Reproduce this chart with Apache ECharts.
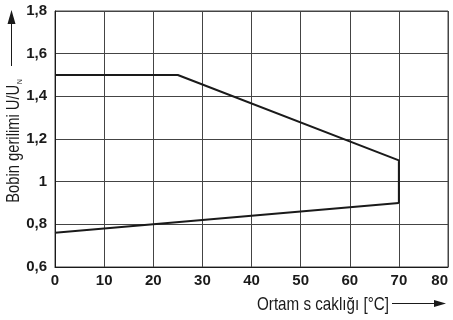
<!DOCTYPE html>
<html>
<head>
<meta charset="utf-8">
<script src="https://cdn.jsdelivr.net/npm/echarts@6/dist/echarts.min.js"></script>
<style>
  html, body { margin: 0; padding: 0; background: #fff; }
  #chart { width: 453px; height: 320px; }
</style>
</head>
<body>
<div id="chart"></div>
<script>
// Ambient temperature (°C) and permissible coil voltage ratio U/U_N
const upperTemp = [0, 25, 70, 70];
const upperVolt = [1.5, 1.5, 1.1, 0.9];
const lowerTemp = [0, 70];
const lowerVolt = [0.76, 0.9];

const xTicks = [0, 10, 20, 30, 40, 50, 60, 70, 80];
const yTicks = [0.6, 0.8, 1.0, 1.2, 1.4, 1.6, 1.8];

const xName = 'Ortam s caklığı [°C]';
const yName = 'Bobin gerilimi U/U';
const ySub = 'N';

const pairs = (xs, ys) => xs.map((x, i) => [x, ys[i]]);
const fmtY = v => {
  const r = Math.round(v * 10) / 10;
  return Number.isInteger(r) ? String(r) : r.toFixed(1).replace('.', ',');
};

const FONT = '"Liberation Sans", Arial, sans-serif';
const INK = '#1a1a1a';
const GRID = '#444';

const chart = echarts.init(document.getElementById('chart'), null, { renderer: 'canvas' });

chart.setOption({
  animation: false,
  backgroundColor: '#fff',
  grid: {
    left: 55, right: 5, top: 11, bottom: 53,
    outerBoundsMode: 'none',
    show: true, borderColor: GRID, borderWidth: 1
  },
  xAxis: {
    type: 'value',
    min: xTicks[0],
    max: xTicks[xTicks.length - 1],
    interval: 10,
    axisLine: { show: true, lineStyle: { color: INK, width: 1 } },
    axisTick: { show: false },
    splitLine: { show: true, lineStyle: { color: GRID, width: 1 } },
    axisLabel: {
      color: INK, fontFamily: FONT, fontWeight: 'bold', fontSize: 15, margin: 6,
      alignMaxLabel: 'right'
    }
  },
  yAxis: {
    type: 'value',
    min: yTicks[0],
    max: yTicks[yTicks.length - 1],
    interval: 0.2,
    axisLine: { show: true, lineStyle: { color: INK, width: 1 } },
    axisTick: { show: false },
    splitLine: { show: true, lineStyle: { color: GRID, width: 1 } },
    axisLabel: { color: INK, fontFamily: FONT, fontWeight: 'bold', fontSize: 15, margin: 8, formatter: fmtY }
  },
  series: [
    {
      type: 'line',
      data: pairs(upperTemp, upperVolt),
      showSymbol: false,
      lineStyle: { color: INK, width: 2 },
      silent: true
    },
    {
      type: 'line',
      data: pairs(lowerTemp, lowerVolt),
      showSymbol: false,
      lineStyle: { color: INK, width: 2 },
      silent: true
    }
  ],
  graphic: [
    // y-axis title, rotated, with subscript
    {
      type: 'text',
      x: 14,
      y: 141,
      rotation: Math.PI / 2,
      scaleX: 0.82,
      style: {
        text: '{m|' + yName + '}{s|' + ySub + '}',
        align: 'center',
        verticalAlign: 'middle',
        rich: {
          m: { fontFamily: FONT, fontSize: 18, fill: INK },
          s: { fontFamily: FONT, fontSize: 8, fill: INK, verticalAlign: 'bottom', padding: [12, 0, 0, 1] }
        }
      }
    },
    // y-axis arrow
    { type: 'line', shape: { x1: 11.5, y1: 66, x2: 11.5, y2: 20 }, style: { stroke: INK, lineWidth: 1 } },
    { type: 'polygon', shape: { points: [[11.5, 10], [7.5, 24], [15.5, 24]] }, style: { fill: INK } },
    // x-axis title
    {
      type: 'text',
      x: 257,
      y: 305,
      scaleX: 0.8,
      style: { text: xName, align: 'left', verticalAlign: 'middle', fontFamily: FONT, fontSize: 19, fill: INK }
    },
    // x-axis arrow
    { type: 'line', shape: { x1: 392, y1: 303.5, x2: 437, y2: 303.5 }, style: { stroke: INK, lineWidth: 1 } },
    { type: 'polygon', shape: { points: [[446, 303.5], [434, 300], [434, 307]] }, style: { fill: INK } }
  ]
});
</script>
</body>
</html>
